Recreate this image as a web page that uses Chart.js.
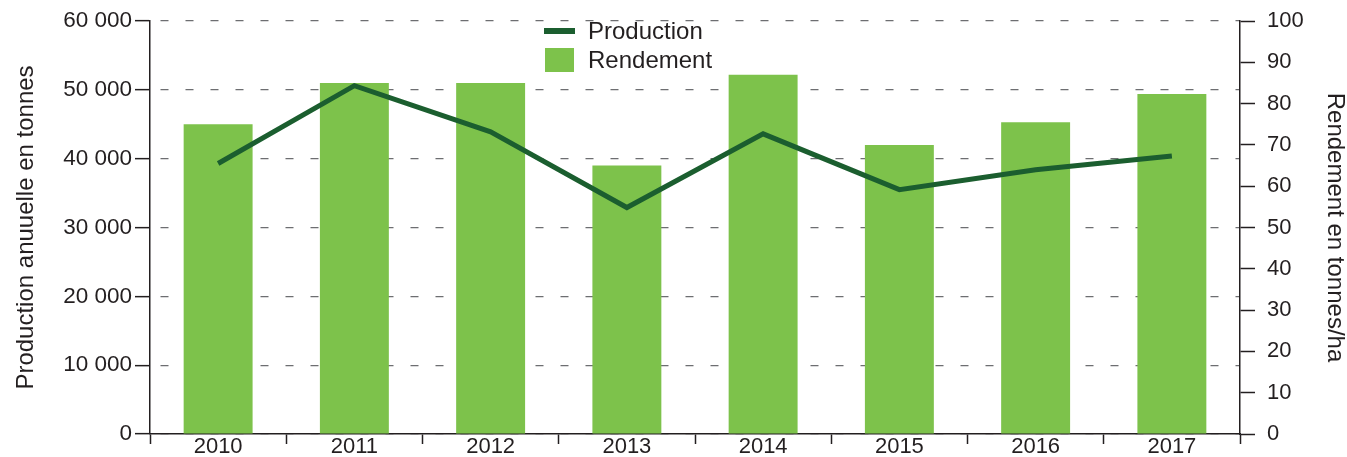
<!DOCTYPE html>
<html>
<head>
<meta charset="utf-8">
<script src="https://cdn.jsdelivr.net/npm/chart.js@4/dist/chart.umd.min.js"></script>
<style>
  html, body { margin: 0; padding: 0; background: #ffffff; }
  #wrap { width: 1347px; height: 457px; position: relative; }
</style>
</head>
<body>
<div id="wrap"><canvas id="c" width="1347" height="457"></canvas></div>
<script>
// ---- data ----
const years = ['2010', '2011', '2012', '2013', '2014', '2015', '2016', '2017'];
const production = [39300, 50600, 43900, 32900, 43600, 35500, 38400, 40400];
const rendement = [75, 85, 85, 65, 87, 70, 75.5, 82.3];
const productionTickLabels = ['0', '10 000', '20 000', '30 000', '40 000', '50 000', '60 000'];
const rendementTickLabels = ['0', '10', '20', '30', '40', '50', '60', '70', '80', '90', '100'];
const seriesLabels = ['Production', 'Rendement'];
const axisTitles = ['Production anuuelle en tonnes', 'Rendement en tonnes/ha'];

const TEXT = '#231f20';
const LINE_COLOR = '#1b5e2f';
const BAR_COLOR = '#7dc24b';
const FONT = '"Liberation Sans", Arial, Helvetica, sans-serif';

function noPad(s) {
  s.paddingTop = 0; s.paddingBottom = 0; s.paddingLeft = 0; s.paddingRight = 0;
}

const legendPlugin = {
  id: 'customLegend',
  afterDraw(chart) {
    const ctx = chart.ctx;
    const ds = chart.data.datasets;
    ctx.save();
    ctx.font = '24px ' + FONT;
    ctx.textBaseline = 'middle';
    ctx.textAlign = 'left';
    // line swatch
    ctx.fillStyle = ds[0].borderColor;
    ctx.fillRect(544, 28, 31, 6);
    ctx.fillStyle = TEXT;
    ctx.fillText(ds[0].label, 588, 32);
    // bar swatch
    ctx.fillStyle = ds[1].backgroundColor;
    ctx.fillRect(545, 48, 29, 24);
    ctx.fillStyle = TEXT;
    ctx.fillText(ds[1].label, 588, 61);
    ctx.restore();
  }
};

new Chart(document.getElementById('c'), {
  data: {
    labels: years,
    datasets: [
      {
        type: 'line',
        label: seriesLabels[0],
        data: production,
        yAxisID: 'y',
        borderColor: LINE_COLOR,
        backgroundColor: LINE_COLOR,
        borderWidth: 5,
        pointRadius: 0,
        pointHoverRadius: 0,
        tension: 0,
        fill: false
      },
      {
        type: 'bar',
        label: seriesLabels[1],
        data: rendement,
        yAxisID: 'y1',
        backgroundColor: BAR_COLOR,
        borderWidth: 0,
        categoryPercentage: 1,
        barPercentage: 0.506
      }
    ]
  },
  options: {
    responsive: false,
    animation: false,
    devicePixelRatio: 1,
    layout: { padding: { top: 21, left: 0, right: 0, bottom: 0 } },
    plugins: {
      legend: { display: false },
      tooltip: { enabled: false }
    },
    scales: {
      x: {
        type: 'category',
        offset: true,
        grid: {
          offset: true,
          drawOnChartArea: false,
          drawTicks: true,
          tickLength: 10,
          tickColor: TEXT,
          tickWidth: 1.5
        },
        border: { display: true, color: TEXT, width: 1.5 },
        ticks: {
          color: TEXT,
          font: { family: FONT, size: 22 },
          padding: -10,
          maxRotation: 0,
          autoSkip: false
        },
        afterFit(s) { s.height = 23; noPad(s); }
      },
      y: {
        position: 'left',
        min: 0,
        max: 60000,
        grid: {
          drawOnChartArea: true,
          color: '#6d6e71',
          lineWidth: 1.3,
          tickLength: 15,
          tickColor: TEXT,
          tickWidth: 1.5,
          tickBorderDash: []
        },
        border: { display: true, color: TEXT, width: 1.5, dash: [8, 17], dashOffset: -10 },
        ticks: {
          stepSize: 10000,
          color: TEXT,
          font: { family: FONT, size: 22.5 },
          padding: 3,
          callback: (v) => productionTickLabels[Math.round(v / 10000)]
        },
        title: {
          display: true,
          text: axisTitles[0],
          color: TEXT,
          font: { family: FONT, size: 24 },
          padding: { top: 12, bottom: 0 }
        },
        afterFit(s) { s.width = 150; noPad(s); }
      },
      y1: {
        position: 'right',
        min: 0,
        max: 100,
        grid: {
          drawOnChartArea: false,
          tickLength: 15,
          tickColor: TEXT,
          tickWidth: 1.5
        },
        border: { display: true, color: TEXT, width: 1.5 },
        ticks: {
          stepSize: 10,
          color: TEXT,
          font: { family: FONT, size: 22 },
          padding: 12,
          callback: (v) => rendementTickLabels[Math.round(v / 10)]
        },
        title: {
          display: true,
          text: axisTitles[1],
          color: TEXT,
          font: { family: FONT, size: 24 },
          padding: { top: -2, bottom: 0 }
        },
        afterFit(s) { s.width = 107; noPad(s); }
      }
    }
  },
  plugins: [legendPlugin]
});
</script>
</body>
</html>
